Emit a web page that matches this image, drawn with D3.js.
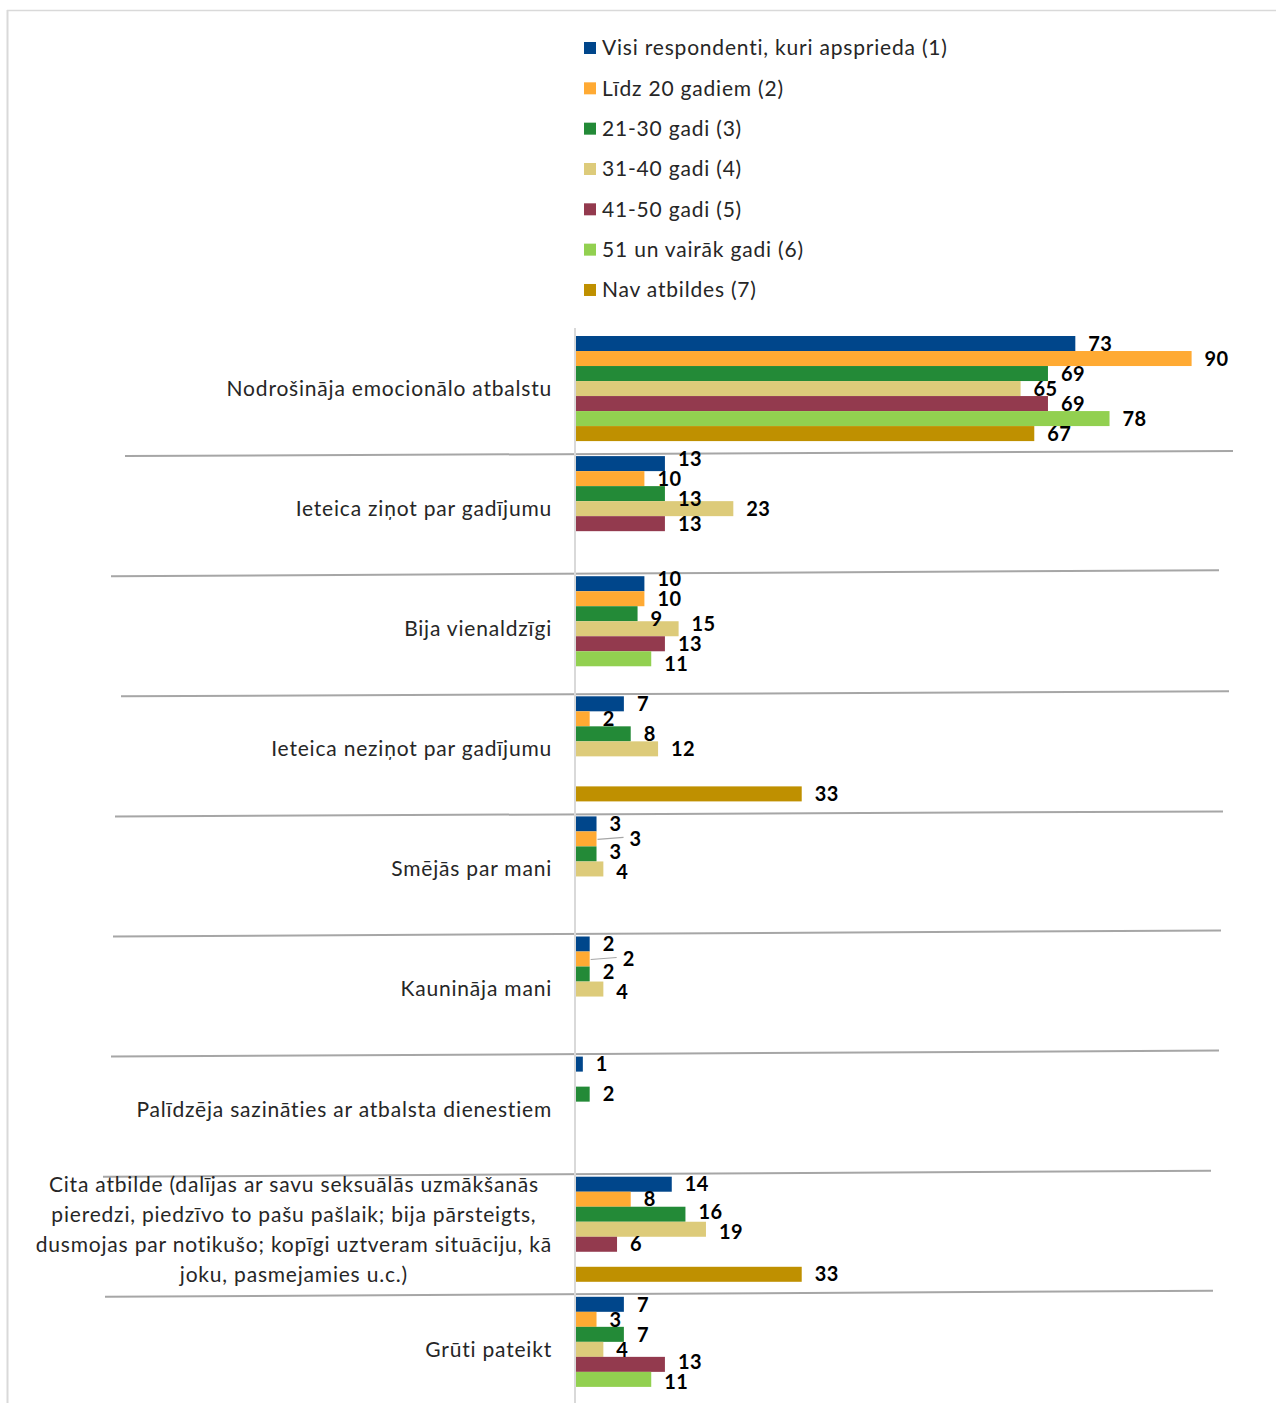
<!DOCTYPE html>
<html>
<head>
<meta charset="utf-8">
<script src="https://cdn.jsdelivr.net/npm/d3@7/dist/d3.min.js"></script>
<style>
  html, body { margin: 0; padding: 0; background: #fff; }
  svg { display: block; }
</style>
</head>
<body>
<svg id="chart" width="1276" height="1403"></svg>
<script>
// ---------- DATA ----------
const categories = [
  "Nodrošināja emocionālo atbalstu",
  "Ieteica ziņot par gadījumu",
  "Bija vienaldzīgi",
  "Ieteica neziņot par gadījumu",
  "Smējās par mani",
  "Kaunināja mani",
  "Palīdzēja sazināties ar atbalsta dienestiem",
  "Cita atbilde (dalījas ar savu seksuālās uzmākšanās|pieredzi, piedzīvo to pašu pašlaik; bija pārsteigts,|dusmojas par notikušo; kopīgi uztveram situāciju, kā|joku, pasmejamies u.c.)",
  "Grūti pateikt"
];
const seriesNames = [
  "Visi respondenti, kuri apsprieda (1)",
  "Līdz 20 gadiem (2)",
  "21-30 gadi (3)",
  "31-40 gadi (4)",
  "41-50 gadi (5)",
  "51 un vairāk gadi (6)",
  "Nav atbildes (7)"
];
const visi      = [73, 13, 10, 7, 3, 2, 1, 14, 7];
const lidz20    = [90, 10, 10, 2, 3, 2, null, 8, 3];
const g21_30    = [69, 13, 9, 8, 3, 2, 2, 16, 7];
const g31_40    = [65, 23, 15, 12, 4, 4, null, 19, 4];
const g41_50    = [69, 13, 13, null, null, null, null, 6, 13];
const g51plus   = [78, null, 11, null, null, null, null, null, 11];
const navAtb    = [67, null, null, 33, null, null, null, 33, null];
const seriesValues = [visi, lidz20, g21_30, g31_40, g41_50, g51plus, navAtb];

// ---------- STYLE / LAYOUT ----------
const colors = ["#00468B", "#FFAA33", "#238A37", "#DDCB7A", "#933A4E", "#92D050", "#BF9000"];
const FONT = "Lato, 'Open Sans', sans-serif";
const TXT_SIZE = 21, TXT_LS = 0.8;
const svg = d3.select("#chart");

// frame
svg.append("line").attr("x1", 7).attr("x2", 1276).attr("y1", 10.5).attr("y2", 10.5)
  .attr("stroke", "#d9d9d9").attr("stroke-width", 1.5);
svg.append("line").attr("x1", 7.5).attr("x2", 7.5).attr("y1", 10).attr("y2", 1403)
  .attr("stroke", "#d9d9d9").attr("stroke-width", 2);

const x = d3.scaleLinear().domain([0, 100]).range([576, 1260]);
const y0 = d3.scaleBand().domain(d3.range(categories.length)).range([328.5, 328.5 + 120.1 * categories.length]).paddingInner(0.125).paddingOuter(0.0625);
const y1 = d3.scaleBand().domain(d3.range(seriesNames.length)).range([0, y0.bandwidth()]);

// separator lines (slightly tilted, as in the original)
const sepLeft = [125, 111, 121, 115, 113, 111, 103, 105];
const sepTilt = [5, 6, 5, 5, 6, 6, 6, 6];
sepLeft.forEach((lx, i) => {
  const yb = y0(i + 1);
  svg.append("line")
    .attr("x1", lx).attr("x2", lx + 1108)
    .attr("y1", yb).attr("y2", yb - sepTilt[i])
    .attr("stroke", "#a6a6a6").attr("stroke-width", 2);
});

// axis line
svg.append("line").attr("x1", 575).attr("x2", 575).attr("y1", 328).attr("y2", 1403)
  .attr("stroke", "#d9d9d9").attr("stroke-width", 2);

// bars + labels
const gCat = svg.append("g").selectAll("g").data(categories).join("g")
  .attr("transform", (d, i) => `translate(0,${y0(i)})`);

gCat.each(function (cat, ci) {
  const g = d3.select(this);
  const items = seriesValues.map((arr, si) => ({ si, v: arr[ci] })).filter(d => d.v != null);
  g.selectAll("rect").data(items).join("rect")
    .attr("x", x(0))
    .attr("y", d => y1(d.si))
    .attr("width", d => x(d.v) - x(0))
    .attr("height", y1.bandwidth())
    .attr("fill", d => colors[d.si]);
  const leader = (ci === 4 || ci === 5);
  const labels = g.selectAll("text.val").data(items).join("text")
    .attr("class", "val")
    .attr("x", d => x(d.v) + 13 + (leader && d.si === 1 ? 20 : 0))
    .attr("dy", "0.36em")
    .attr("font-family", FONT).attr("font-weight", "bold").attr("font-size", 20)
    .attr("letter-spacing", 0.4)
    .attr("fill", "#000")
    .text(d => d.v);
  // simple collision relaxation
  items.forEach(d => { d.ly = y1(d.si) + y1.bandwidth() / 2; });
  labels.each(function (d) {
    d.lx0 = +this.getAttribute("x");
    d.lx1 = d.lx0 + this.getComputedTextLength();
  });
  const minGap = 20;
  for (let it = 0; it < 60; it++) {
    for (let a = 0; a < items.length; a++) {
      for (let b = a + 1; b < items.length; b++) {
        const A = items[a], B = items[b];
        if (A.lx1 + 2 < B.lx0 || B.lx1 + 2 < A.lx0) continue;
        const gap = B.ly - A.ly;
        if (gap < minGap) {
          const dlt = (minGap - gap) / 2;
          A.ly -= dlt; B.ly += dlt;
        }
      }
    }
  }
  labels.attr("y", d => d.ly);
  if (leader) {
    const d = items.find(e => e.si === 1);
    g.append("line")
      .attr("x1", x(d.v) + 1).attr("x2", x(d.v) + 27)
      .attr("y1", y1(1) + y1.bandwidth() / 2 + 0.5).attr("y2", y1(1) + y1.bandwidth() / 2 - 1.5)
      .attr("stroke", "#a6a6a6").attr("stroke-width", 1.2);
  }
});

// category labels
categories.forEach((c, i) => {
  const lines = c.split("|");
  const cy = y0(i) + y0.bandwidth() / 2;
  const t = svg.append("text")
    .attr("font-family", FONT).attr("font-size", TXT_SIZE).attr("letter-spacing", TXT_LS)
    .attr("fill", "#262626");
  if (lines.length === 1) {
    t.attr("x", 552).attr("y", cy).attr("dy", "0.35em").attr("text-anchor", "end").text(c);
  } else {
    const lh = 30;
    const spans = lines.map((l, k) => t.append("tspan")
      .attr("y", cy + (k - (lines.length - 1) / 2) * lh).attr("dy", "0.35em").text(l));
    const maxW = d3.max(spans.map(s => s.node().getComputedTextLength()));
    const cx = 552 - maxW / 2;
    t.attr("text-anchor", "middle");
    spans.forEach(s => s.attr("x", cx));
  }
});

// legend
const lg = svg.append("g");
seriesNames.forEach((n, i) => {
  const cy = 48 + i * 40.33;
  lg.append("rect").attr("x", 584).attr("y", cy - 6).attr("width", 12).attr("height", 12).attr("fill", colors[i]);
  lg.append("text").attr("x", 602).attr("y", cy).attr("dy", "0.35em")
    .attr("font-family", FONT).attr("font-size", TXT_SIZE).attr("letter-spacing", TXT_LS)
    .attr("fill", "#262626").text(n);
});
</script>
</body>
</html>
